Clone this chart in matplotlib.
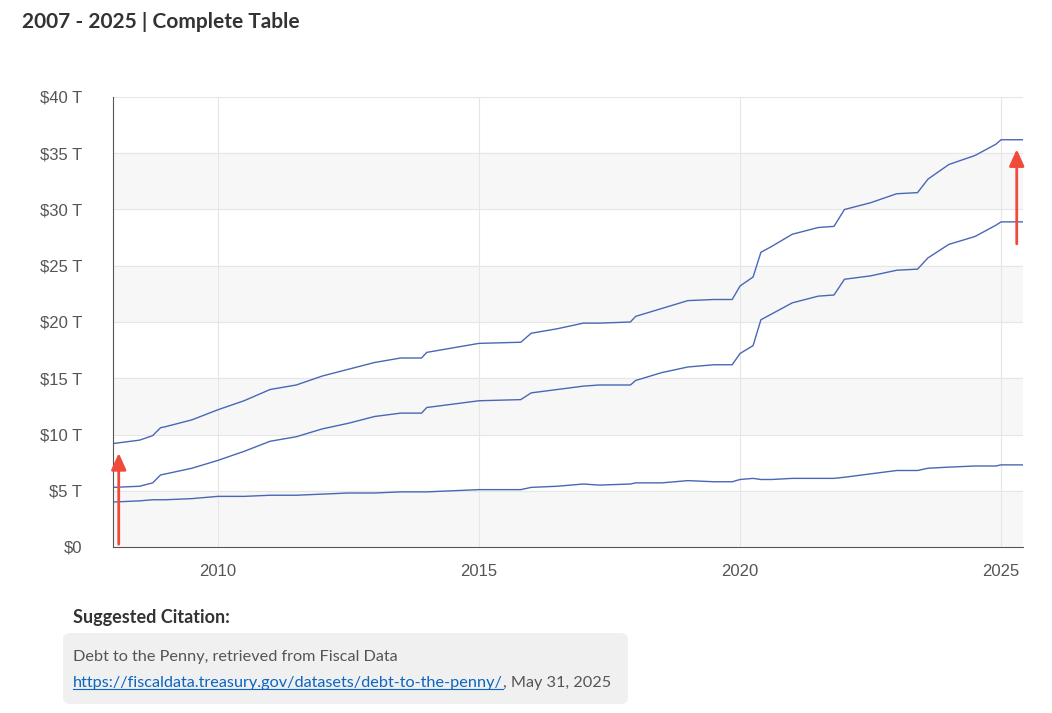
import numpy as np
import matplotlib
matplotlib.use('Agg')
import matplotlib.pyplot as plt
from matplotlib.patches import FancyBboxPatch

# dates (decimal years) and debt in $ trillions
dates = [2008.0, 2008.5, 2008.75, 2008.9, 2009.0, 2009.5, 2010.0, 2010.5, 2011.0, 2011.5,
         2012.0, 2012.5, 2013.0, 2013.5, 2013.9, 2014.0, 2014.5, 2015.0, 2015.8, 2016.0,
         2016.5, 2017.0, 2017.3, 2017.9, 2018.0, 2018.5, 2019.0, 2019.5, 2019.85, 2020.0,
         2020.25, 2020.4, 2020.6, 2021.0, 2021.5, 2021.8, 2022.0, 2022.5, 2023.0, 2023.4,
         2023.6, 2024.0, 2024.5, 2024.9, 2025.0, 2025.42]
total = [9.2, 9.5, 9.9, 10.6, 10.7, 11.3, 12.2, 13.0, 14.0, 14.4,
         15.2, 15.8, 16.4, 16.8, 16.8, 17.3, 17.7, 18.1, 18.2, 19.0,
         19.4, 19.9, 19.9, 20.0, 20.5, 21.2, 21.9, 22.0, 22.0, 23.2,
         24.0, 26.2, 26.7, 27.8, 28.4, 28.5, 30.0, 30.6, 31.4, 31.5,
         32.7, 34.0, 34.8, 35.8, 36.2, 36.2]
public = [5.3, 5.4, 5.7, 6.4, 6.5, 7.0, 7.7, 8.5, 9.4, 9.8,
          10.5, 11.0, 11.6, 11.9, 11.9, 12.4, 12.7, 13.0, 13.1, 13.7,
          14.0, 14.3, 14.4, 14.4, 14.8, 15.5, 16.0, 16.2, 16.2, 17.2,
          17.9, 20.2, 20.7, 21.7, 22.3, 22.4, 23.8, 24.1, 24.6, 24.7,
          25.7, 26.9, 27.6, 28.6, 28.9, 28.9]
intragov = [4.0, 4.1, 4.2, 4.2, 4.2, 4.3, 4.5, 4.5, 4.6, 4.6,
            4.7, 4.8, 4.8, 4.9, 4.9, 4.9, 5.0, 5.1, 5.1, 5.3,
            5.4, 5.6, 5.5, 5.6, 5.7, 5.7, 5.9, 5.8, 5.8, 6.0,
            6.1, 6.0, 6.0, 6.1, 6.1, 6.1, 6.2, 6.5, 6.8, 6.8,
            7.0, 7.1, 7.2, 7.2, 7.3, 7.3]

fig = plt.figure(figsize=(10.52, 7.13), dpi=100)
ax = fig.add_axes([113/1052, 1-547/713, 910/1052, 450/713])

line_c = '#4a67b5'
for y in (total, public, intragov):
    ax.plot(dates, y, color=line_c, lw=1.0)

for lo in (0, 10, 20, 30):
    ax.axhspan(lo, lo+5, color='#f7f7f7', zorder=0)
for v in range(5, 45, 5):
    ax.axhline(v, color='#e6e6e6', lw=0.8, zorder=0)
for yr in (2010, 2015, 2020, 2025):
    ax.axvline(yr, color='#e6e6e6', lw=0.8, zorder=0)

ax.set_xlim(2007.99, 2025.42)
ax.set_ylim(0, 40)
ax.set_yticks(range(0, 45, 5))
ax.set_yticklabels(['$0'] + ['$%d T' % v for v in range(5, 45, 5)])
ax.set_xticks([2010, 2015, 2020, 2025])
ax.tick_params(length=0, labelsize=12, labelcolor='#555555', pad=22)
ax.tick_params(axis='x', pad=12)
for lab in ax.get_xticklabels() + ax.get_yticklabels():
    lab.set_family('Liberation Sans')
for s in ('top', 'right'):
    ax.spines[s].set_visible(False)
for s in ('left', 'bottom'):
    ax.spines[s].set_color('#555555')

arrow = dict(arrowstyle='-|>,head_width=0.45,head_length=1.0', color='#f04a3a', lw=2)
ax.annotate('', xy=(2008.1, 8.6), xytext=(2008.1, 0), arrowprops=arrow, annotation_clip=False)
ax.annotate('', xy=(2025.3, 35.6), xytext=(2025.3, 26.7), arrowprops=arrow)

tf = 'Lato'
fig.text(22/1052, 1-22/713, '2007 - 2025 | Complete Table', fontsize=15, fontweight='bold',
         color='#333333', va='center', family=tf)
fig.text(73/1052, 1-618/713, 'Suggested Citation:', fontsize=13, fontweight='bold',
         color='#333333', va='center', family=tf)
box = FancyBboxPatch((63/1052, 1-704/713), 565/1052, 71/713, transform=fig.transFigure,
                     boxstyle='round,pad=0,rounding_size=0.008', fc='#f0f0f0', ec='none')
fig.patches.append(box)
fig.text(73/1052, 1-657/713, 'Debt to the Penny, retrieved from Fiscal Data', fontsize=11.7,
         color='#555555', va='center', family=tf)
link = fig.text(73/1052, 1-683/713, 'https://fiscaldata.treasury.gov/datasets/debt-to-the-penny/',
                fontsize=11.7, color='#0a66c2', va='center', family=tf)
fig.canvas.draw()
bb = link.get_window_extent()
fig.add_artist(plt.Line2D([bb.x0/1052, bb.x1/1052], [(bb.y0+1)/713]*2, color='#0a66c2', lw=0.8))
fig.text(bb.x1/1052, 1-683/713, ', May 31, 2025', fontsize=11.7, color='#555555', va='center',
         family=tf)

fig.savefig('out.png', dpi=100)
